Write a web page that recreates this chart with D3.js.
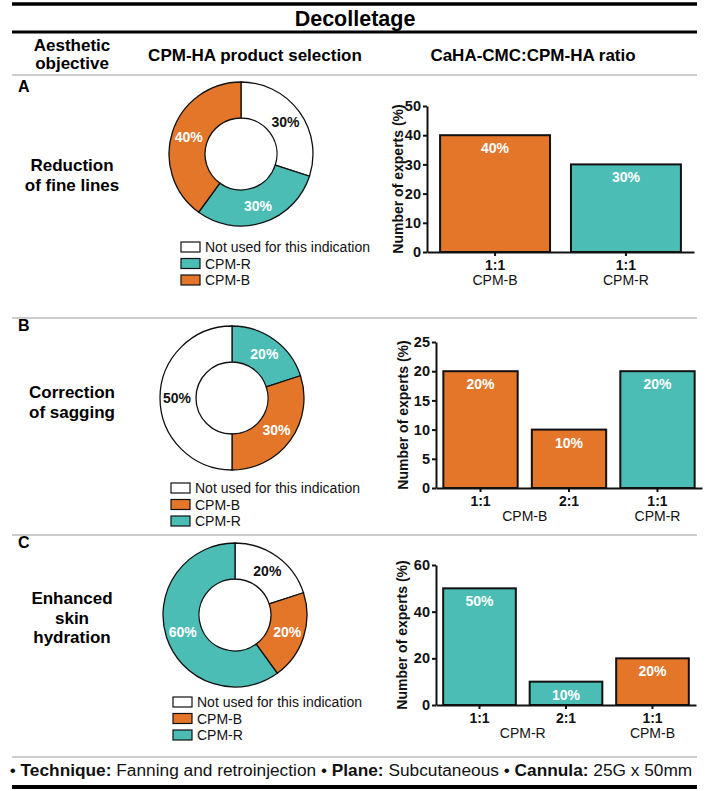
<!DOCTYPE html>
<html>
<head>
<meta charset="utf-8">
<script src="https://cdn.jsdelivr.net/npm/d3@7"></script>
<style>
  html, body { margin: 0; padding: 0; background: #fff; }
  svg { display: block; }
  text { font-family: "Liberation Sans", Arial, Helvetica, sans-serif; }
</style>
</head>
<body>
<svg id="chart" width="709" height="791"></svg>
<script>
// ---------------- DATA ----------------
const title = "Decolletage";
const headers = ["Aesthetic\nobjective", "CPM-HA product selection", "CaHA-CMC:CPM-HA ratio"];
const sectionLetters = ["A", "B", "C"];
const objectives = [
  ["Reduction", "of fine lines"],
  ["Correction", "of sagging"],
  ["Enhanced", "skin", "hydration"]
];

// Donut slices (clockwise from 12 o'clock)
const donutA_labels = ["Not used for this indication", "CPM-R", "CPM-B"];
const donutA_values = [30, 30, 40];
const donutB_labels = ["CPM-R", "CPM-B", "Not used for this indication"];
const donutB_values = [20, 30, 50];
const donutC_labels = ["Not used for this indication", "CPM-B", "CPM-R"];
const donutC_values = [20, 20, 60];

// Legend orders
const legendA = ["Not used for this indication", "CPM-R", "CPM-B"];
const legendB = ["Not used for this indication", "CPM-B", "CPM-R"];
const legendC = ["Not used for this indication", "CPM-B", "CPM-R"];

// Bar charts
const barA_ratios = ["1:1", "1:1"];
const barA_products = ["CPM-B", "CPM-R"];
const barA_values = [40, 30];
const barA_ticks = [0, 10, 20, 30, 40, 50];

const barB_ratios = ["1:1", "2:1", "1:1"];
const barB_products = ["CPM-B", "CPM-B", "CPM-R"];
const barB_values = [20, 10, 20];
const barB_ticks = [0, 5, 10, 15, 20, 25];

const barC_ratios = ["1:1", "2:1", "1:1"];
const barC_products = ["CPM-R", "CPM-R", "CPM-B"];
const barC_values = [50, 10, 20];
const barC_ticks = [0, 20, 40, 60];

const yTitle = "Number of experts (%)";
const footerParts = [
  ["• ", false], ["Technique:", true], [" Fanning and retroinjection • ", false],
  ["Plane:", true], [" Subcutaneous • ", false], ["Cannula:", true], [" 25G x 50mm", false]
];

// ---------------- STYLE ----------------
const ORANGE = "#E4762A";
const TEAL = "#4CBDB5";
const colorOf = d3.scaleOrdinal()
  .domain(["Not used for this indication", "CPM-R", "CPM-B"])
  .range(["#ffffff", TEAL, ORANGE]);
const textColorOf = name => name === "Not used for this indication" ? "#111" : "#fff";

const svg = d3.select("#chart");
const LX0 = 12, LX1 = 697;

// ---------------- FRAME ----------------
function hline(y, w, c) {
  svg.append("line").attr("x1", LX0).attr("x2", LX1).attr("y1", y).attr("y2", y)
    .attr("stroke", c).attr("stroke-width", w);
}
hline(4, 3.5, "#000");
hline(32, 3, "#000");
hline(75, 1.5, "#bdbdbd");
hline(318, 1.5, "#bdbdbd");
hline(535, 1.5, "#bdbdbd");
hline(757, 1.5, "#bdbdbd");
hline(787, 4, "#000");

svg.append("text").attr("x", 355).attr("y", 26).attr("text-anchor", "middle")
  .attr("font-size", 21.5).attr("font-weight", "bold").text(title);

const hdr0 = headers[0].split("\n");
hdr0.forEach((t, i) => svg.append("text").attr("x", 72).attr("y", 51 + i * 18)
  .attr("text-anchor", "middle").attr("font-size", 17).attr("font-weight", "bold").text(t));
svg.append("text").attr("x", 255).attr("y", 61).attr("text-anchor", "middle")
  .attr("font-size", 17).attr("font-weight", "bold").text(headers[1]);
svg.append("text").attr("x", 533).attr("y", 61).attr("text-anchor", "middle")
  .attr("font-size", 17).attr("font-weight", "bold").text(headers[2]);

// Section letters and objectives
const letterY = [92, 331, 548];
const objY = [[171, 191], [398, 418], [604, 624, 643]];
sectionLetters.forEach((l, i) => {
  svg.append("text").attr("x", 18).attr("y", letterY[i]).attr("font-size", 16)
    .attr("font-weight", "bold").text(l);
  objectives[i].forEach((t, j) => svg.append("text").attr("x", 72).attr("y", objY[i][j])
    .attr("text-anchor", "middle").attr("font-size", 17).attr("font-weight", "bold").text(t));
});

// ---------------- DONUTS ----------------
function donut(labels, values, legend, cx, cy, legX, legY0) {
  const g = svg.append("g").attr("transform", `translate(${cx},${cy})`);
  const pie = d3.pie().sort(null).value(d => d.v);
  const data = pie(labels.map((l, i) => ({ l, v: values[i] })));
  const arc = d3.arc().innerRadius(36).outerRadius(72);
  const labelArc = d3.arc().innerRadius(55).outerRadius(55);
  g.selectAll("path").data(data).join("path")
    .attr("d", arc).attr("fill", d => colorOf(d.data.l))
    .attr("stroke", "#111").attr("stroke-width", 1.3);
  g.selectAll("text").data(data).join("text")
    .attr("transform", d => `translate(${labelArc.centroid(d)})`)
    .attr("text-anchor", "middle").attr("dy", "0.36em")
    .attr("font-size", 14).attr("font-weight", "bold")
    .attr("fill", d => textColorOf(d.data.l))
    .text(d => d.data.v + "%");
  const lg = svg.append("g");
  legend.forEach((name, i) => {
    const y = legY0 + i * 16.5;
    lg.append("rect").attr("x", legX).attr("y", y - 5).attr("width", 19).attr("height", 10)
      .attr("fill", colorOf(name)).attr("stroke", "#111").attr("stroke-width", 1.2);
    lg.append("text").attr("x", legX + 24).attr("y", y + 5).attr("font-size", 14)
      .attr("fill", "#111").text(name);
  });
}
donut(donutA_labels, donutA_values, legendA, 241, 154, 181, 247);
donut(donutB_labels, donutB_values, legendB, 232, 398, 171, 488);
donut(donutC_labels, donutC_values, legendC, 235, 615, 173, 702);

// ---------------- BAR CHARTS ----------------
function barChart(ratios, products, values, ticks, o) {
  const n = values.length;
  const x = d3.scaleBand().domain(d3.range(n)).range([o.x0, o.x1])
    .paddingInner(0.16).paddingOuter(o.po);
  const y = d3.scaleLinear().domain([0, ticks[ticks.length - 1]]).range([o.yb, o.yt]);
  const g = svg.append("g");

  g.selectAll("rect.bar").data(values).join("rect").attr("class", "bar")
    .attr("x", (d, i) => x(i)).attr("width", x.bandwidth())
    .attr("y", d => y(d)).attr("height", d => y(0) - y(d))
    .attr("fill", (d, i) => colorOf(products[i]))
    .attr("stroke", "#111").attr("stroke-width", 2);

  g.selectAll("text.val").data(values).join("text").attr("class", "val")
    .attr("x", (d, i) => x(i) + x.bandwidth() / 2).attr("y", d => y(d) + 18)
    .attr("text-anchor", "middle").attr("font-size", 14).attr("font-weight", "bold")
    .attr("fill", "#fff").text(d => d + "%");

  const ya = g.append("g").attr("transform", `translate(${o.x0},0)`)
    .call(d3.axisLeft(y).tickValues(ticks).tickSize(4).tickSizeOuter(0).tickPadding(2));
  ya.select(".domain").attr("stroke", "#111").attr("stroke-width", 2);
  ya.selectAll(".tick line").attr("stroke", "#111").attr("stroke-width", 2);
  ya.selectAll(".tick text").attr("font-size", 14.5).attr("font-weight", "bold")
    .attr("fill", "#111").attr("font-family", "Liberation Sans, Arial, sans-serif");

  const xa = g.append("g").attr("transform", `translate(0,${o.yb})`)
    .call(d3.axisBottom(x).tickSize(4).tickSizeOuter(0).tickFormat(""));
  xa.select(".domain").attr("stroke", "#111").attr("stroke-width", 2);
  xa.selectAll(".tick line").attr("stroke", "#111").attr("stroke-width", 2);

  g.selectAll("text.ratio").data(ratios).join("text").attr("class", "ratio")
    .attr("x", (d, i) => x(i) + x.bandwidth() / 2).attr("y", o.yb + 18)
    .attr("text-anchor", "middle").attr("font-size", 14).attr("font-weight", "bold")
    .attr("fill", "#111").text(d => d);

  // group consecutive bars sharing a product
  const groups = [];
  products.forEach((p, i) => {
    const last = groups[groups.length - 1];
    if (last && last.p === p) last.idx.push(i); else groups.push({ p, idx: [i] });
  });
  g.selectAll("text.prod").data(groups).join("text").attr("class", "prod")
    .attr("x", d => d3.mean(d.idx, i => x(i) + x.bandwidth() / 2)).attr("y", o.yb + 33)
    .attr("text-anchor", "middle").attr("font-size", 14).attr("fill", "#111")
    .text(d => d.p);

  g.append("text").attr("transform", `translate(${o.tx},${(o.yb + o.yt) / 2}) rotate(-90)`)
    .attr("text-anchor", "middle").attr("font-size", 14).attr("font-weight", "bold")
    .attr("fill", "#111").text(yTitle);
}
barChart(barA_ratios, barA_products, barA_values, barA_ticks,
  { x0: 427, x1: 694, po: 0.1, yb: 252, yt: 106, tx: 403 });
barChart(barB_ratios, barB_products, barB_values, barB_ticks,
  { x0: 436, x1: 702, po: 0.083, yb: 488, yt: 342, tx: 408 });
barChart(barC_ratios, barC_products, barC_values, barC_ticks,
  { x0: 436, x1: 696, po: 0.083, yb: 705, yt: 565, tx: 407 });

// ---------------- FOOTER ----------------
const ft = svg.append("text").attr("x", 351).attr("y", 776).attr("text-anchor", "middle")
  .attr("font-size", 17.3).attr("fill", "#111");
footerParts.forEach(([t, b]) => ft.append("tspan").attr("font-weight", b ? "bold" : "normal").text(t));
</script>
</body>
</html>
